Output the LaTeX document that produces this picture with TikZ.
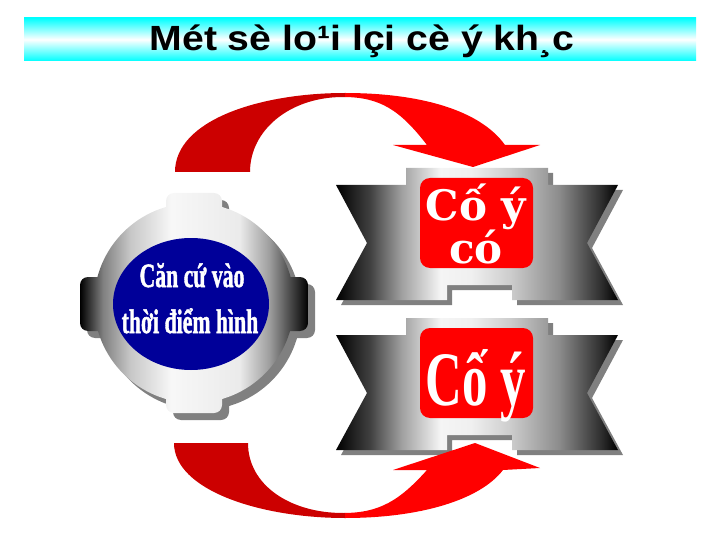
\documentclass[tikz,border=0pt]{standalone}
\usepackage{fontspec}
\setmainfont{Liberation Serif}
\newfontfamily\titlefont{Liberation Sans}
\newfontfamily\ribfont{DejaVu Serif}
\newfontfamily\heavyserif{Liberation Serif}[BoldFeatures={FakeBold=1.6}]
\definecolor{arrowdark}{RGB}{204,0,0}
\definecolor{arrowred}{RGB}{255,0,0}
\definecolor{discblue}{RGB}{0,0,153}
\definecolor{shadowgray}{RGB}{128,128,128}
\definecolor{bandcyan}{RGB}{0,255,255}
\pgfdeclarehorizontalshading{ribbongrad}{100bp}{color(0bp)=(black); color(25bp)=(black); color(31bp)=(black!75); color(36.5bp)=(black!38); color(43.5bp)=(black!4); color(49bp)=(black!6); color(56bp)=(black!20); color(64.5bp)=(black!45); color(72bp)=(black!82); color(75bp)=(black); color(100bp)=(black)}
\pgfdeclarehorizontalshading{geargrad}{100bp}{color(0bp)=(black); color(25bp)=(black); color(30bp)=(black!50); color(36bp)=(black!22); color(45bp)=(black!3); color(60bp)=(black!8); color(66.5bp)=(black!38); color(73bp)=(black!85); color(75bp)=(black); color(100bp)=(black)}
\newcommand\gearshade[1]{\begin{scope}\clip #1;\shade[shading=geargrad] (80,185) rectangle (308,420);\end{scope}}
\tikzset{
  titletext/.style={font=\titlefont\bfseries\fontsize{35}{35}\selectfont, text=black, inner sep=0pt, anchor=base},
  geartext/.style={font=\heavyserif\bfseries\fontsize{34}{34}\selectfont, text=white, inner sep=0pt, anchor=base},
  ribtext/.style={font=\ribfont\bfseries\fontsize{42}{37}\selectfont, text=white, inner sep=0pt, align=center},
  bigtext/.style={font=\bfseries\fontsize{77}{77}\selectfont, text=white, inner sep=0pt, anchor=base},
  redbox/.style={fill=arrowred, rounded corners=10pt},
  ribbonshade/.style={shading=ribbongrad},
}
\begin{document}
\begin{tikzpicture}[x=1pt,y=-1pt]
\useasboundingbox (0,0) rectangle (720,540);
% title band
\shade[top color=bandcyan, bottom color=bandcyan, middle color=white] (24,18) rectangle (696,61);
\node[titletext] (title) at (362,51) {\scalebox{1.12}[1]{Mét sè lo¹i lçi cè ý kh¸c}};

% gear shadow
\begin{scope}[shift={(7,7)}]
\fill[shadowgray] (194,303) circle[radius=100];
\fill[shadowgray, rounded corners=8] (166,193) rectangle (222,240);
\fill[shadowgray, rounded corners=8] (166,366) rectangle (222,413);
\fill[shadowgray, rounded corners=8] (80,277) rectangle (140,331);
\fill[shadowgray, rounded corners=8] (248,277) rectangle (308,331);
\end{scope}
% gear body
\gearshade{(194,303) circle[radius=100]}
\gearshade{[rounded corners=8] (166,193) rectangle (222,240)}
\gearshade{[rounded corners=8] (166,366) rectangle (222,413)}
\gearshade{[rounded corners=8] (80,277) rectangle (140,331)}
\gearshade{[rounded corners=8] (248,277) rectangle (308,331)}
\fill[discblue] (191,304) ellipse[x radius=78, y radius=66];
\node[geartext] (g1) at (192,287) {\scalebox{0.64}[1]{Căn cứ vào}};
\node[geartext] (g2) at (190,333) {\scalebox{0.64}[1]{thời điểm hình}};

% ribbons
\foreach \dy in {0,150}{
  \fill[shadowgray, shift={(5,5)}] (336,185+\dy) -- (406,185+\dy) -- (406,168+\dy) -- (548,168+\dy) -- (548,185+\dy) -- (618,185+\dy) -- (587,243+\dy) -- (618,300+\dy) -- (512,300+\dy) -- (512,285+\dy) -- (447,285+\dy) -- (447,300+\dy) -- (336,300+\dy) -- (367,243+\dy) -- cycle;
  \shade[ribbonshade] (336,185+\dy) -- (406,185+\dy) -- (406,168+\dy) -- (548,168+\dy) -- (548,185+\dy) -- (618,185+\dy) -- (587,243+\dy) -- (618,300+\dy) -- (512,300+\dy) -- (512,285+\dy) -- (447,285+\dy) -- (447,300+\dy) -- (336,300+\dy) -- (367,243+\dy) -- cycle;
  \fill[redbox] (420,178+\dy) rectangle (533,268+\dy);
}
\node[ribtext] (r1) at (476,224) {Cố ý\\có};
\node[bigtext] (r2) at (476,405) {\scalebox{0.66}[1]{Cố ý}};

% top curved arrow
\begin{scope}
\clip (0,0) rectangle (345,540);
\fill[arrowdark] (175,172) .. controls (175,120) and (260,93) .. (345,93) .. controls (420,93) and (480,110) .. (505,145) -- (540,145) -- (473,167) -- (393,145) -- (427,145) .. controls (400,110) and (380,97) .. (343,97) .. controls (290,97) and (250,130) .. (250,172) -- cycle;
\end{scope}
\begin{scope}
\clip (345,0) rectangle (720,540);
\fill[arrowred] (175,172) .. controls (175,120) and (260,93) .. (345,93) .. controls (420,93) and (480,110) .. (505,145) -- (540,145) -- (473,167) -- (393,145) -- (427,145) .. controls (400,110) and (380,97) .. (343,97) .. controls (290,97) and (250,130) .. (250,172) -- cycle;
\end{scope}
% bottom curved arrow
\begin{scope}
\clip (0,0) rectangle (345,540);
\fill[arrowdark] (174,443) .. controls (174,490) and (260,518) .. (345,518) .. controls (420,518) and (480,500) .. (503,470) -- (540,468) -- (475,443) -- (393,470) -- (427,470) .. controls (400,500) and (380,513) .. (343,513) .. controls (290,513) and (248,485) .. (248,443) -- cycle;
\end{scope}
\begin{scope}
\clip (345,0) rectangle (720,540);
\fill[arrowred] (174,443) .. controls (174,490) and (260,518) .. (345,518) .. controls (420,518) and (480,500) .. (503,470) -- (540,468) -- (475,443) -- (393,470) -- (427,470) .. controls (400,500) and (380,513) .. (343,513) .. controls (290,513) and (248,485) .. (248,443) -- cycle;
\end{scope}
\end{tikzpicture}
\end{document}
